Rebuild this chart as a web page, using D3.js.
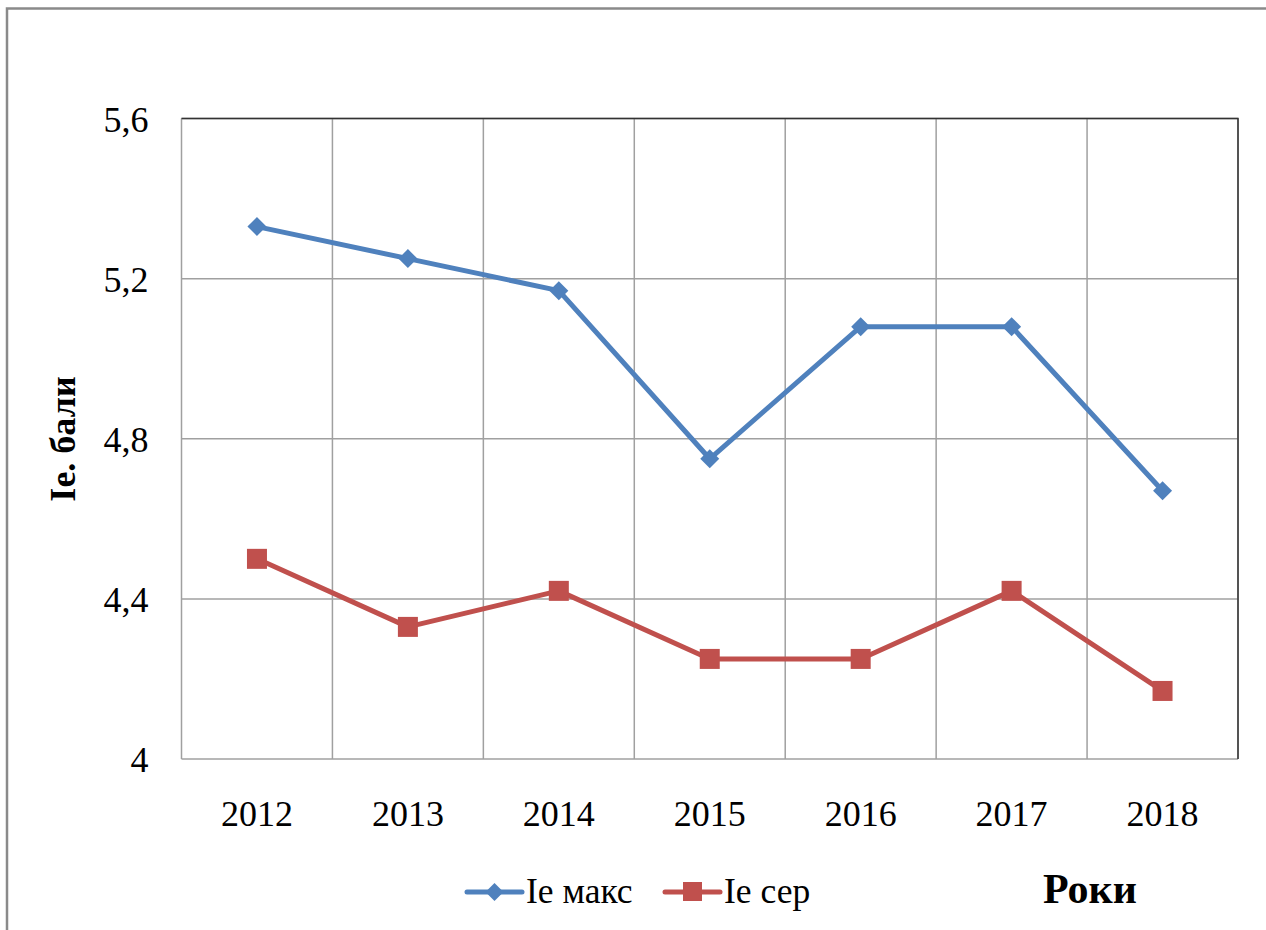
<!DOCTYPE html>
<html>
<head>
<meta charset="utf-8">
<script src="https://cdn.jsdelivr.net/npm/d3@7"></script>
<style>
  body { margin: 0; background: #fff; }
  text { font-family: "Liberation Serif", "Times New Roman", serif; fill: #000; }
</style>
</head>
<body>
<script>
// chart data
const years = ['2012', '2013', '2014', '2015', '2016', '2017', '2018']
const ieMaks = [5.33, 5.25, 5.17, 4.75, 5.08, 5.08, 4.67]
const ieSer = [4.5, 4.33, 4.42, 4.25, 4.25, 4.42, 4.17]
const yTicks = [4, 4.4, 4.8, 5.2, 5.6]
const seriesNames = ['Ie макс', 'Ie сер']

const W = 1266, H = 930
const plot = {left: 181.5, top: 118.5, right: 1238, bottom: 759}

const svg = d3.select('body').append('svg')
    .attr('width', W)
    .attr('height', H)

// outer chart frame
svg.append('rect')
    .attr('x', 7).attr('y', 8.5)
    .attr('width', W + 20).attr('height', H + 20)
    .attr('fill', 'none')
    .attr('stroke', '#8a8a8a')
    .attr('stroke-width', 2.5)

const xScale = d3.scaleBand()
    .domain(years)
    .range([plot.left, plot.right])

const yScale = d3.scaleLinear()
    .domain([4, 5.6])
    .range([plot.bottom, plot.top])

// vertical gridlines at band edges
const edges = years.map(y => xScale(y)).concat([plot.right])
svg.append('g').selectAll('line').data(edges)
    .enter().append('line')
    .attr('x1', d => d).attr('x2', d => d)
    .attr('y1', plot.top).attr('y2', plot.bottom)
    .attr('stroke', '#a0a0a0')
    .attr('stroke-width', 1.5)

// horizontal gridlines
svg.append('g').selectAll('line').data(yTicks)
    .enter().append('line')
    .attr('x1', plot.left).attr('x2', plot.right)
    .attr('y1', d => yScale(d)).attr('y2', d => yScale(d))
    .attr('stroke', '#a0a0a0')
    .attr('stroke-width', 1.5)

// darker top & right edge of plot area
svg.append('path')
    .attr('d', `M${plot.left},${plot.top}H${plot.right}V${plot.bottom}`)
    .attr('fill', 'none')
    .attr('stroke', '#333')
    .attr('stroke-width', 1.5)

// y axis labels
const yAxis = svg.append('g')
    .attr('transform', 'translate(' + (plot.left - 33) + ',0)')
    .call(d3.axisLeft(yScale).tickValues(yTicks).tickSize(0)
        .tickFormat(d => d3.format('.1~f')(d).replace('.', ',')))
yAxis.select('.domain').remove()
yAxis.selectAll('text')
    .style('font-family', '"Liberation Serif", serif')
    .style('font-size', '36px')
    .attr('x', 0)
    .attr('dy', '0.35em')

// x axis labels
const xAxis = svg.append('g')
    .attr('transform', 'translate(0,' + (plot.bottom + 42) + ')')
    .call(d3.axisBottom(xScale).tickSize(0))
xAxis.select('.domain').remove()
xAxis.selectAll('text')
    .style('font-family', '"Liberation Serif", serif')
    .style('font-size', '36px')
    .attr('y', 0)
    .attr('dy', '0.7em')

const cx = d => xScale(d) + xScale.bandwidth() / 2

const line = d3.line()
    .x((d, i) => cx(years[i]))
    .y(d => yScale(d))

const blue = '#4f81bd', red = '#c0504d'

svg.append('path').datum(ieMaks)
    .attr('fill', 'none').attr('stroke', blue).attr('stroke-width', 5)
    .attr('stroke-linejoin', 'round')
    .attr('d', line)

svg.append('path').datum(ieSer)
    .attr('fill', 'none').attr('stroke', red).attr('stroke-width', 5)
    .attr('stroke-linejoin', 'round')
    .attr('d', line)

const diamond = s => `M0,${-s}L${s},0L0,${s}L${-s},0Z`

svg.append('g').selectAll('path').data(ieMaks)
    .enter().append('path')
    .attr('transform', (d, i) => `translate(${cx(years[i])},${yScale(d)})`)
    .attr('d', diamond(9.5))
    .attr('fill', blue)

svg.append('g').selectAll('rect').data(ieSer)
    .enter().append('rect')
    .attr('x', (d, i) => cx(years[i]) - 10)
    .attr('y', d => yScale(d) - 10)
    .attr('width', 20).attr('height', 20)
    .attr('fill', red)

// y axis title
svg.append('text')
    .attr('transform', 'translate(75,439) rotate(-90)')
    .attr('text-anchor', 'middle')
    .style('font-size', '36px')
    .style('font-weight', 'bold')
    .text('Ie. бали')

// x axis title
svg.append('text')
    .attr('x', 1043).attr('y', 903)
    .style('font-size', '42px')
    .style('font-weight', 'bold')
    .text('Роки')

// legend
const legend = [
    {name: seriesNames[0], color: blue, x: 467, shape: 'diamond'},
    {name: seriesNames[1], color: red, x: 665, shape: 'square'}
]
const lg = svg.append('g').selectAll('g').data(legend)
    .enter().append('g')
    .attr('transform', d => `translate(${d.x},892)`)
lg.append('line')
    .attr('x1', 0).attr('x2', 55)
    .attr('stroke', d => d.color).attr('stroke-width', 5)
    .attr('stroke-linecap', 'round')
lg.filter(d => d.shape === 'diamond').append('path')
    .attr('transform', 'translate(27.5,0)')
    .attr('d', diamond(9))
    .attr('fill', d => d.color)
lg.filter(d => d.shape === 'square').append('rect')
    .attr('x', 18).attr('y', -10).attr('width', 19).attr('height', 19)
    .attr('fill', d => d.color)
lg.append('text')
    .attr('x', 59).attr('y', 11)
    .style('font-size', '35.5px')
    .text(d => d.name)
</script>
</body>
</html>
